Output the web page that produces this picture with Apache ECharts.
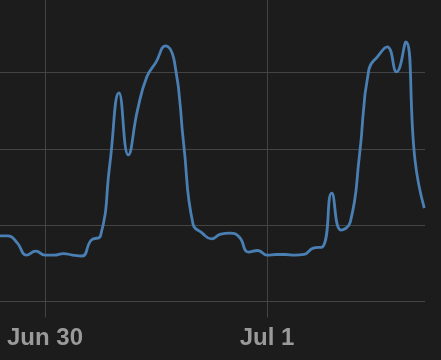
<!DOCTYPE html>
<html>
<head>
<meta charset="utf-8">
<script src="https://cdn.jsdelivr.net/npm/echarts@6/dist/echarts.min.js"></script>
<style>
html,body{margin:0;padding:0;background:#1c1c1c;}
#chart{width:441px;height:360px;}
</style>
</head>
<body>
<div id="chart"></div>
<script>
// hours relative to Jun 30 00:00
var hours = [-5,-4,-3,-2,-1,0,1,2,3,4,5,6,7,8,9,10,11,12,13,14,15,16,17,18,19,20,21,22,23,24,25,26,27,28,29,30,31,32,33,34,35,36,37,38,39,40,41];
var values = [21.5,21.5,19.2,15.2,16.5,15.2,15.2,15.7,15.2,14.9,20.1,21.5,44.7,68.3,48.0,62.7,73.5,78.4,83.7,78.4,51.3,25.4,22.4,20.5,22.1,22.4,21.1,16.2,16.7,15.2,15.4,15.4,15.2,15.4,17.5,17.9,35.5,23.4,26.0,48.0,75.8,80.4,83.4,75.2,85.0,46.3,30.6];
var tickHours = [0, 24];
var tickLabels = ["Jun 30", "Jul 1"];

var chart = echarts.init(document.getElementById('chart'));
var data = hours.map(function(h, i){ return [h, values[i]]; });
var gridColor = '#444444';
chart.setOption({
  backgroundColor: '#1c1c1c',
  animation: false,
  grid: {left: 0, right: 16, top: 0, bottom: 58.5, containLabel: false},
  xAxis: {
    type: 'value',
    min: -4.865,
    max: 41.08,
    axisLine: {show: false},
    axisTick: {show: true, length: 16, lineStyle: {color: gridColor, width: 1}, customValues: tickHours},
    splitLine: {show: false},
    axisLabel: {
      customValues: tickHours,
      margin: 25,
      color: '#9a9a9a',
      fontSize: 24,
      fontWeight: 'bold',
      fontFamily: 'Liberation Sans',
      formatter: function(v){ var i = tickHours.indexOf(v); return i >= 0 ? tickLabels[i] : ''; }
    }
  },
  yAxis: {
    type: 'value',
    min: 0,
    max: 98.75,
    interval: 25,
    axisLine: {show: false},
    axisTick: {show: false},
    axisLabel: {show: false},
    splitLine: {show: true, lineStyle: {color: [gridColor, gridColor, gridColor, gridColor, 'rgba(0,0,0,0)'], width: 1}}
  },
  series: [{
    type: 'line',
    data: data,
    smooth: true,
    showSymbol: false,
    lineStyle: {color: '#4a7fb3', width: 2.8},
    itemStyle: {color: '#4a7fb3'},
    z: 3,
    markLine: {
      silent: true,
      symbol: 'none',
      animation: false,
      z: 0,
      label: {show: false},
      lineStyle: {color: gridColor, width: 1, type: 'solid'},
      data: tickHours.map(function(h){ return {xAxis: h}; })
    }
  }]
});
</script>
</body>
</html>
